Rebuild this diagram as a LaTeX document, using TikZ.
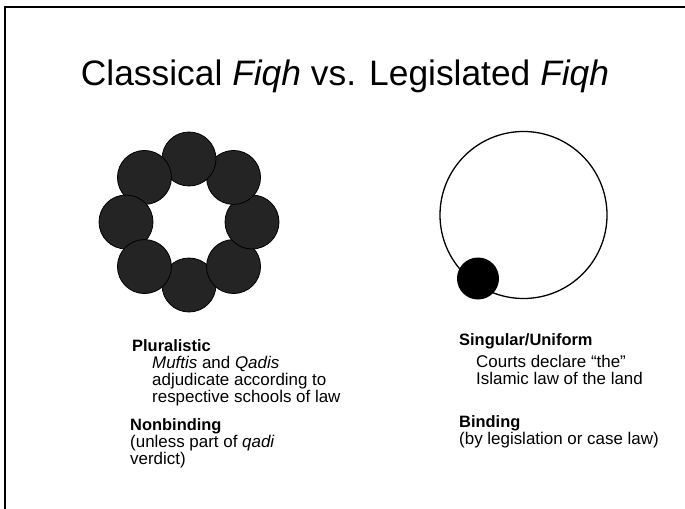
\documentclass[tikz,border=0pt]{standalone}
\usepackage{fontspec}
\setmainfont{Liberation Sans}
\usetikzlibrary{calc}
\begin{document}
\begin{tikzpicture}[x=1bp,y=-1bp,
  dot/.style={circle,fill=black!86,draw=black,line width=0.8bp,minimum size=54bp,inner sep=0pt},
  head/.style={anchor=base west,inner sep=0pt,font=\fontsize{16.5}{19}\selectfont\bfseries},
  body/.style={anchor=base west,inner sep=0pt,font=\fontsize{17}{19}\selectfont},
  frame/.style={line width=2.5bp,black}]
\useasboundingbox (0,0) rectangle (685,509);
\fill[white] (0,0) rectangle (685,509);
\draw[frame] (685,7) -- (5,7) -- (5,509);
\node[anchor=base,inner sep=0pt,font=\fontsize{35.5}{40}\selectfont] (title) at (345,86) {Classical \textit{Fiqh} vs. Legislated \textit{Fiqh}};
% ring of eight circles
\coordinate (ringc) at (189,222);
\foreach \a in {90,45,0,-45,-90,-135,180,135}{
  \node[dot] (d\a) at ($(ringc)+(\a:63)$) {};
}
% single circle
\node[circle,draw=black,line width=1.3bp,minimum size=167bp,inner sep=0pt] (big) at (523.5,215) {};
\node[circle,fill=black,minimum size=42bp,inner sep=0pt] (small) at (478,278.5) {};
% left texts
\node[head] (plu) at (132,351) {Pluralistic};
\node[body] (l1) at (152,368) {\textit{Muftis} and \textit{Qadis}};
\node[body] (l2) at (152,385) {adjudicate according to};
\node[body] (l3) at (152,402) {respective schools of law};
\node[head] (non) at (130,430) {Nonbinding};
\node[body] (l4) at (130,447) {(unless part of \textit{qadi}};
\node[body] (l5) at (130,464) {verdict)};
% right texts
\node[head] (sing) at (459,345) {Singular/Uniform};
\node[body] (r1) at (476,367) {Courts declare \char"201Cthe\char"201D};
\node[body] (r2) at (476,384) {Islamic law of the land};
\node[head] (bind) at (459,427) {Binding};
\node[body] (r3) at (459,444) {(by legislation or case law)};
\end{tikzpicture}
\end{document}
